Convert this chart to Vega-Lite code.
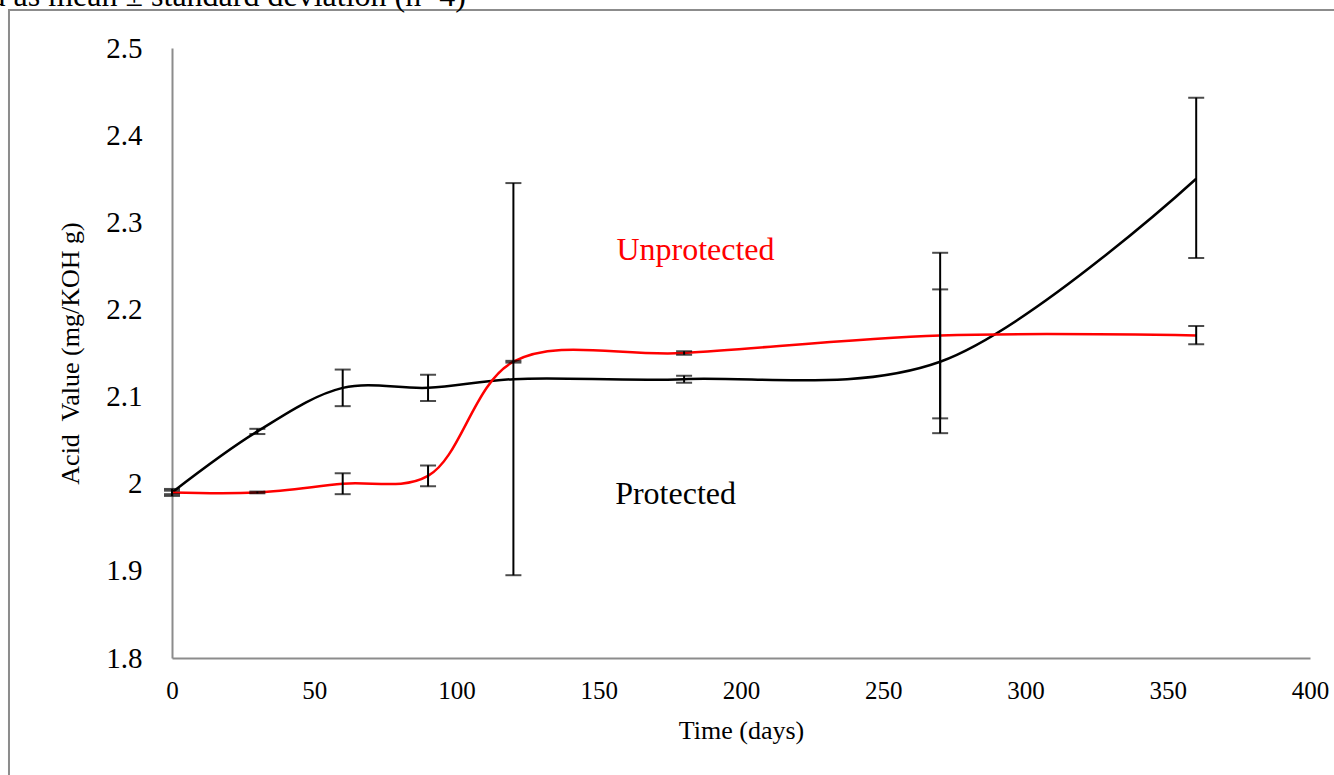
{
  "$schema": "https://vega.github.io/schema/vega-lite/v6.json",
  "width": 1138,
  "height": 610,
  "autosize": {"type": "none"},
  "padding": {"left": 172, "top": 48, "right": 24, "bottom": 117},
  "background": "white",
  "config": {
    "font": "Liberation Serif",
    "view": {"stroke": null},
    "axis": {"grid": false, "ticks": false, "domainColor": "#8c8c8c", "domainWidth": 2, "labelColor": "black", "titleColor": "black", "titleFontWeight": "normal", "labelFont": "Liberation Serif", "titleFont": "Liberation Serif"}
  },
  "datasets": {
    "acid": [
      {"series": "Protected", "day": 0, "value": 1.99, "lo": 1.986, "hi": 1.994},
      {"series": "Protected", "day": 30, "value": 2.06, "lo": 2.057, "hi": 2.063},
      {"series": "Protected", "day": 60, "value": 2.11, "lo": 2.089, "hi": 2.131},
      {"series": "Protected", "day": 90, "value": 2.11, "lo": 2.095, "hi": 2.125},
      {"series": "Protected", "day": 120, "value": 2.12, "lo": 1.895, "hi": 2.345},
      {"series": "Protected", "day": 180, "value": 2.12, "lo": 2.116, "hi": 2.124},
      {"series": "Protected", "day": 270, "value": 2.14, "lo": 2.058, "hi": 2.265},
      {"series": "Protected", "day": 360, "value": 2.35, "lo": 2.259, "hi": 2.443},
      {"series": "Unprotected", "day": 0, "value": 1.99, "lo": 1.988, "hi": 1.992},
      {"series": "Unprotected", "day": 30, "value": 1.99, "lo": 1.989, "hi": 1.991},
      {"series": "Unprotected", "day": 60, "value": 2.0, "lo": 1.988, "hi": 2.012},
      {"series": "Unprotected", "day": 90, "value": 2.009, "lo": 1.997, "hi": 2.021},
      {"series": "Unprotected", "day": 120, "value": 2.14, "lo": 2.139, "hi": 2.141},
      {"series": "Unprotected", "day": 180, "value": 2.15, "lo": 2.148, "hi": 2.152},
      {"series": "Unprotected", "day": 270, "value": 2.17, "lo": 2.075, "hi": 2.223},
      {"series": "Unprotected", "day": 360, "value": 2.17, "lo": 2.16, "hi": 2.181}
    ],
    "labels": [
      {"series": "Unprotected", "day": 184, "value": 2.268},
      {"series": "Protected", "day": 177, "value": 1.988}
    ],
    "caption": [
      {"text": "Values are expressed as mean ± standard deviation (n=4)", "day": 103.3, "value": 2.5482}
    ]
  },
  "layer": [
    {
      "description": "frame around the figure",
      "data": {"values": [{}]},
      "mark": {"type": "rect", "fill": null, "stroke": "#8c8c8c", "strokeWidth": 2, "clip": false},
      "encoding": {
        "x": {"datum": -57.3, "type": "quantitative", "scale": {"domain": [0, 400]}},
        "x2": {"datum": 460},
        "y": {"datum": 2.5436, "type": "quantitative"},
        "y2": {"datum": 1.6}
      }
    },
    {
      "data": {"name": "acid"},
      "mark": {"type": "line", "interpolate": "catmull-rom", "strokeWidth": 2.5},
      "encoding": {
        "x": {
          "field": "day", "type": "quantitative",
          "scale": {"domain": [0, 400], "nice": false},
          "axis": {"values": [0, 50, 100, 150, 200, 250, 300, 350, 400], "title": "Time (days)", "labelFont": "Liberation Serif", "titleFont": "Liberation Serif", "labelFontSize": 25, "labelPadding": 20, "titleFontSize": 26, "titlePadding": 14, "labelFlush": false}
        },
        "y": {
          "field": "value", "type": "quantitative",
          "scale": {"domain": [1.8, 2.5], "nice": false, "zero": false},
          "axis": {"values": [1.8, 1.9, 2.0, 2.1, 2.2, 2.3, 2.4, 2.5], "labelExpr": "datum.value == 2 ? '2' : format(datum.value, '.1f')", "title": "Acid\u00a0 Value (mg/KOH g)", "labelFont": "Liberation Serif", "titleFont": "Liberation Serif", "labelFontSize": 29, "labelPadding": 30, "titleFontSize": 26, "titlePadding": 22, "labelFlush": false}
        },
        "color": {
          "field": "series", "type": "nominal",
          "scale": {"domain": ["Protected", "Unprotected"], "range": ["#000000", "#ff0000"]},
          "legend": null
        }
      }
    },
    {
      "data": {"name": "acid"},
      "mark": {"type": "errorbar", "ticks": {"size": 16, "thickness": 2, "color": "black"}, "rule": {"strokeWidth": 2, "color": "black"}},
      "encoding": {
        "x": {"field": "day", "type": "quantitative", "title": "Time (days)"},
        "y": {"field": "lo", "type": "quantitative", "title": "Acid\u00a0 Value (mg/KOH g)"},
        "y2": {"field": "hi"}
      }
    },
    {
      "data": {"name": "labels"},
      "mark": {"type": "text", "fontSize": 32, "font": "Liberation Serif", "align": "center", "baseline": "middle"},
      "encoding": {
        "x": {"field": "day", "type": "quantitative"},
        "y": {"field": "value", "type": "quantitative"},
        "text": {"field": "series"},
        "color": {"field": "series", "type": "nominal"}
      }
    },
    {
      "data": {"name": "caption"},
      "mark": {"type": "text", "fontSize": 32, "font": "Liberation Serif", "align": "right", "baseline": "alphabetic", "color": "black", "clip": false},
      "encoding": {
        "x": {"field": "day", "type": "quantitative"},
        "y": {"field": "value", "type": "quantitative"},
        "text": {"field": "text"}
      }
    }
  ]
}
